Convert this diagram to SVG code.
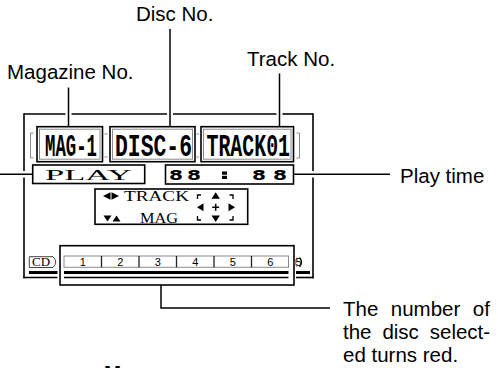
<svg xmlns="http://www.w3.org/2000/svg" width="498" height="368" viewBox="0 0 498 368">
<style>
.lbl{font-family:"Liberation Sans",Arial,sans-serif;font-size:20.5px;fill:#000}
.ld{stroke:#000;stroke-width:1.5;fill:none}
.fr{stroke:#000;stroke-width:1.6;fill:none}
.bx{stroke:#000;stroke-width:1.6;fill:#fff}
.gr{stroke:#8a8a8a;stroke-width:1;fill:none}
.mono{font-family:"Liberation Mono","Courier New",monospace;font-weight:bold;font-size:32px;fill:#000}
.ser{font-family:"Liberation Serif","Times New Roman",serif;fill:#000}
.dig{font-family:"DejaVu Sans","Liberation Sans",sans-serif;font-weight:bold;font-size:14px;fill:#000}
.num{font-family:"Liberation Sans",Arial,sans-serif;font-size:11px;fill:#000;text-anchor:middle}
.tri{fill:#000}
</style>
<rect width="498" height="368" fill="#fff"/>

<g id="screen-frame">
<line class="fr" x1="24" y1="114" x2="65.5" y2="114"/>
<line class="fr" x1="71.5" y1="114" x2="167" y2="114"/>
<line class="fr" x1="173" y1="114" x2="276.5" y2="114"/>
<line class="fr" x1="282.5" y1="114" x2="313" y2="114"/>
<line class="fr" x1="24" y1="113.2" x2="24" y2="171"/>
<line class="fr" x1="24" y1="177.5" x2="24" y2="278.3"/>
<line class="fr" x1="313" y1="113.2" x2="313" y2="171"/>
<line class="fr" x1="313" y1="177.5" x2="313" y2="278.3"/>
<line class="fr" x1="23.2" y1="277.5" x2="57.5" y2="277.5"/>
<line class="fr" x1="296" y1="277.5" x2="313.8" y2="277.5"/>
<line stroke="#000" stroke-width="3" x1="29" y1="272.5" x2="57.5" y2="272.5"/>
<line stroke="#000" stroke-width="3" x1="296" y1="272.5" x2="310" y2="272.5"/>
</g>

<g id="magazine-box">
<rect class="bx" x="37" y="126.7" width="65.5" height="35"/>
<rect class="gr" x="39.5" y="129.2" width="60.5" height="30"/>
<text class="mono" x="45" y="155.5" textLength="52" lengthAdjust="spacingAndGlyphs">MAG-1</text>
</g>
<g id="disc-box">
<rect class="bx" x="110" y="126.7" width="85" height="35"/>
<rect class="gr" x="112.5" y="129.2" width="80" height="30"/>
<text class="mono" x="115" y="155.5" textLength="77" lengthAdjust="spacingAndGlyphs">DISC-6</text>
</g>
<g id="track-box">
<rect class="bx" x="201" y="126.7" width="92.5" height="35"/>
<rect class="gr" x="203.5" y="129.2" width="87.5" height="30"/>
<text class="mono" x="206.5" y="155.5" textLength="83.5" lengthAdjust="spacingAndGlyphs">TRACK01</text>
</g>
<g id="brackets">
<path class="gr" d="M33.5,133 H30.5 V158 H33.5"/>
<path class="gr" d="M296.5,133 H299.5 V158 H296.5"/>
<path class="gr" d="M104.5,134 H107.5 M104.5,157 H107.5 M196.5,134 H199 M196.5,157 H199"/>
</g>

<g id="play-box">
<rect class="bx" x="32.7" y="165" width="112" height="18.5"/>
<text class="ser" x="45" y="179.5" font-size="14.5" textLength="87" lengthAdjust="spacingAndGlyphs">PLAY</text>
</g>
<g id="time-box">
<rect class="bx" x="165.5" y="165" width="128" height="19"/>
<text class="dig" x="169" y="180" textLength="14" lengthAdjust="spacingAndGlyphs">8</text>
<text class="dig" x="187" y="180" textLength="14" lengthAdjust="spacingAndGlyphs">8</text>
<rect x="222" y="171.5" width="5" height="3.2" fill="#000"/>
<rect x="222" y="175.8" width="5" height="3.2" fill="#000"/>
<text class="dig" x="252" y="180" textLength="14" lengthAdjust="spacingAndGlyphs">8</text>
<text class="dig" x="273" y="180" textLength="14" lengthAdjust="spacingAndGlyphs">8</text>
</g>

<g id="control-box">
<rect class="bx" x="95" y="189" width="152.7" height="35.3"/>
<polygon class="tri" points="103,196 110.5,192.3 110.5,199.7"/>
<polygon class="tri" points="119,196 111.5,192.3 111.5,199.7"/>
<text class="ser" x="124" y="201" font-size="14.5" textLength="65" lengthAdjust="spacingAndGlyphs">TRACK</text>
<polygon class="tri" points="103.5,215.5 111.5,215.5 107.5,221.5"/>
<polygon class="tri" points="112.5,221.5 120.5,221.5 116.5,215.5"/>
<text class="ser" x="140" y="222.5" font-size="14.5" textLength="38" lengthAdjust="spacingAndGlyphs">MAG</text>
<path d="M197.5,199 V195 H201 M229.5,195 H233 V199 M197.5,216 V220 H201 M229.5,220 H233 V216" stroke="#000" stroke-width="1.3" fill="none"/>
<polygon class="tri" points="215.7,192.3 211.5,198.7 219.9,198.7"/>
<polygon class="tri" points="215.7,222 211.5,215.6 219.9,215.6"/>
<polygon class="tri" points="197,207.3 203.5,203.3 203.5,211.3"/>
<polygon class="tri" points="235,207.3 228.5,203.3 228.5,211.3"/>
<path d="M212.3,207.3 H219.1 M215.7,203.8 V210.8" stroke="#000" stroke-width="1.5"/>
</g>

<g id="disc-strip">
<path d="M29.3,256.7 H53 Q58.5,262 53,267.5 H29.3 Z" fill="#fff" stroke="#444" stroke-width="1"/>
<text class="ser" x="32" y="266.3" font-size="12" textLength="18" lengthAdjust="spacingAndGlyphs">CD</text>
<rect class="bx" x="60" y="245.7" width="234" height="39.3"/>
<rect x="64" y="256" width="224.5" height="11.3" fill="#fff" stroke="#8a8a8a" stroke-width="1"/>
<path d="M101.5,256 V267.3 M139,256 V267.3 M176.5,256 V267.3 M214,256 V267.3 M251.5,256 V267.3" stroke="#222" stroke-width="1.3"/>
<text class="num" x="82.7" y="265.8">1</text>
<text class="num" x="120.2" y="265.8">2</text>
<text class="num" x="157.7" y="265.8">3</text>
<text class="num" x="195.2" y="265.8">4</text>
<text class="num" x="232.7" y="265.8">5</text>
<text class="num" x="270.2" y="265.8">6</text>
<line stroke="#000" stroke-width="3" x1="64" y1="272.5" x2="288.5" y2="272.5"/>
<line stroke="#000" stroke-width="1.4" x1="64" y1="277.5" x2="288.5" y2="277.5"/>
<path d="M297,257.5 Q293.5,262.2 297,267" stroke="#8a8a8a" stroke-width="1" fill="none"/>
<path d="M299.5,257.5 Q303.5,262.2 299.5,267" stroke="#000" stroke-width="1.2" fill="none"/>
<text class="num" x="298.5" y="265.5" font-size="9">5</text>
</g>

<g id="connectors">
<line class="ld" x1="68.5" y1="87.5" x2="68.5" y2="126.7"/>
<line class="ld" x1="170" y1="29" x2="170" y2="126.7"/>
<line class="ld" x1="279.5" y1="73.5" x2="279.5" y2="126.7"/>
<line class="ld" x1="0" y1="174.2" x2="32.7" y2="174.2"/>
<line class="ld" x1="293.5" y1="174.2" x2="390" y2="174.2"/>
<polyline class="ld" points="161,285 161,308 330,308"/>
</g>

<g id="labels">
<text class="lbl" x="7" y="79">Magazine No.</text>
<text class="lbl" x="136" y="21">Disc No.</text>
<text class="lbl" x="247" y="66">Track No.</text>
<text class="lbl" x="400" y="183">Play time</text>
<text class="lbl" x="343" y="315.7" word-spacing="6.8">The number of</text>
<text class="lbl" x="343" y="339.3" word-spacing="5.2">the disc select-</text>
<text class="lbl" x="343" y="361.7">ed turns red.</text>
<text class="lbl" x="104" y="379.5" font-weight="bold">M</text>
</g>
</svg>
